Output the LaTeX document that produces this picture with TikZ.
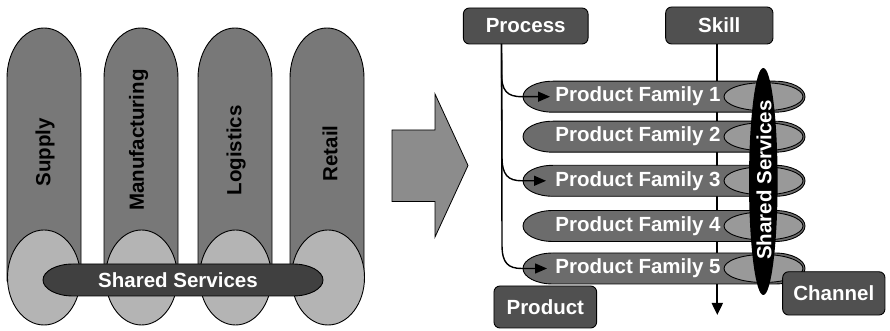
\documentclass[tikz,border=0pt]{standalone}
\usepackage{fontspec}
\setmainfont{Liberation Sans}
\usetikzlibrary{arrows.meta}

\definecolor{pillarfill}{RGB}{120,120,120}
\definecolor{basefill}{RGB}{180,180,180}
\definecolor{sharedfill}{RGB}{64,64,64}
\definecolor{bigarrow}{RGB}{140,140,140}
\definecolor{boxfill}{RGB}{80,80,80}
\definecolor{familyfill}{RGB}{108,108,108}
\definecolor{capfill}{RGB}{153,153,153}

% capsule: {style}{x left}{x right}{y centre}{y radius}{end x radius}
\newcommand\capsule[6]{%
  \path[#1] (#2+#6,#4-#5) -- (#3-#6,#4-#5)
    arc[start angle=-90,end angle=90,x radius=#6pt,y radius=#5pt]
    -- (#2+#6,#4+#5)
    arc[start angle=90,end angle=270,x radius=#6pt,y radius=#5pt] -- cycle;}

\begin{document}
\begin{tikzpicture}[x=1pt,y=1pt,
  font=\fontsize{20.5}{24}\selectfont\bfseries,
  outline/.style={draw=black,line width=0.9pt},
  pillar/.style={outline,fill=pillarfill},
  pillarbase/.style={outline,fill=basefill},
  label/.style={text=black,rotate=90,inner sep=0pt},
  whitetext/.style={text=white,inner sep=0pt},
  tagbox/.style={outline,fill=boxfill,text=white,rounded corners=6pt,inner sep=0pt},
  family/.style={outline,fill=familyfill},
  familycap/.style={outline,fill=capfill},
  feed/.style={draw=black,line width=1.4pt,-{Triangle[length=12pt,width=10pt]}},
  down/.style={draw=black,line width=2pt,-{Triangle[length=12pt,width=11pt]}}]
\useasboundingbox (0,0) rectangle (890,331);

% ---------- left: functional silos ----------
\path[pillar] (7,50) -- (7,253) arc[start angle=180,end angle=0,x radius=37pt,y radius=50pt] -- (81,50) -- cycle;
\path[pillar] (104,50) -- (104,253) arc[start angle=180,end angle=0,x radius=37pt,y radius=50pt] -- (178,50) -- cycle;
\path[pillar] (198,50) -- (198,253) arc[start angle=180,end angle=0,x radius=37pt,y radius=50pt] -- (272,50) -- cycle;
\path[pillar] (290,50) -- (290,253) arc[start angle=180,end angle=0,x radius=37pt,y radius=50pt] -- (364,50) -- cycle;

\path[pillarbase] (44,53.5) ellipse [x radius=36.5pt,y radius=47.5pt];
\path[pillarbase] (141.5,53.5) ellipse [x radius=36pt,y radius=47.5pt];
\path[pillarbase] (235.5,53.5) ellipse [x radius=36pt,y radius=47.5pt];
\path[pillarbase] (328,53.5) ellipse [x radius=36.5pt,y radius=47.5pt];

\node[label] (supply) at (45,178.5) {Supply};
\node[label] (manuf) at (138.5,191) {Manufacturing};
\node[label] (logist) at (236,180.5) {Logistics};
\node[label] (retail) at (330,177.5) {Retail};

\capsule{outline,fill=sharedfill}{43}{323}{51}{16}{30}
\node[whitetext] (sharedL) at (178,51) {Shared Services};

% ---------- transition arrow ----------
\path[outline,fill=bigarrow,line width=0.8pt]
  (392,129.5) -- (435,129.5) -- (435,94) -- (468,165.5) -- (435,237) -- (435,201) -- (392,201) -- cycle;

% ---------- right: matrix organisation ----------
\node[tagbox,minimum width=124.7pt,minimum height=36pt] (process) at (525.7,305) {Process};
\node[tagbox,minimum width=107.3pt,minimum height=37pt] (skill) at (719.3,305.5) {Skill};

\coordinate (skilltop) at (717.3,287);
\coordinate (skillend) at (717.3,16);
\draw[down] (skilltop) -- (skillend);

\foreach \n/\y in {1/234.3,2/194.3,3/150.2,4/105,5/62.5}{
  \capsule{family}{523}{805}{\y}{15.5}{30}
  \path[familycap] (763.5,\y) ellipse [x radius=39.5pt,y radius=14pt];
  \node[whitetext] (pf\n) at (638,\y) {Product Family \n};
}

\fill[black] (763.3,149.5) ellipse [x radius=14.3pt,y radius=113.5pt];
\node[whitetext,rotate=90] (sharedR) at (764,151) {Shared Services};

\coordinate (pstart) at (501.5,287);
\coordinate (tip1) at (550,234.3);
\coordinate (tip3) at (546,150.2);
\coordinate (tip5) at (547,62.5);
\draw[feed] (pstart) -- (501.5,258) .. controls (501.5,240) and (507,234.3) .. (522,234.3) -- (tip1);
\draw[feed] (pstart) -- (502,174) .. controls (502,156) and (508,150.2) .. (522,150.2) -- (tip3);
\draw[feed] (pstart) -- (502,86) .. controls (502,68) and (508,62.5) .. (522,62.5) -- (tip5);

\node[tagbox,minimum width=102.7pt,minimum height=42pt] (product) at (545.3,24) {Product};
\node[tagbox,minimum width=102.3pt,minimum height=43.3pt] (channel) at (833.8,37.6) {Channel};
\end{tikzpicture}
\end{document}
